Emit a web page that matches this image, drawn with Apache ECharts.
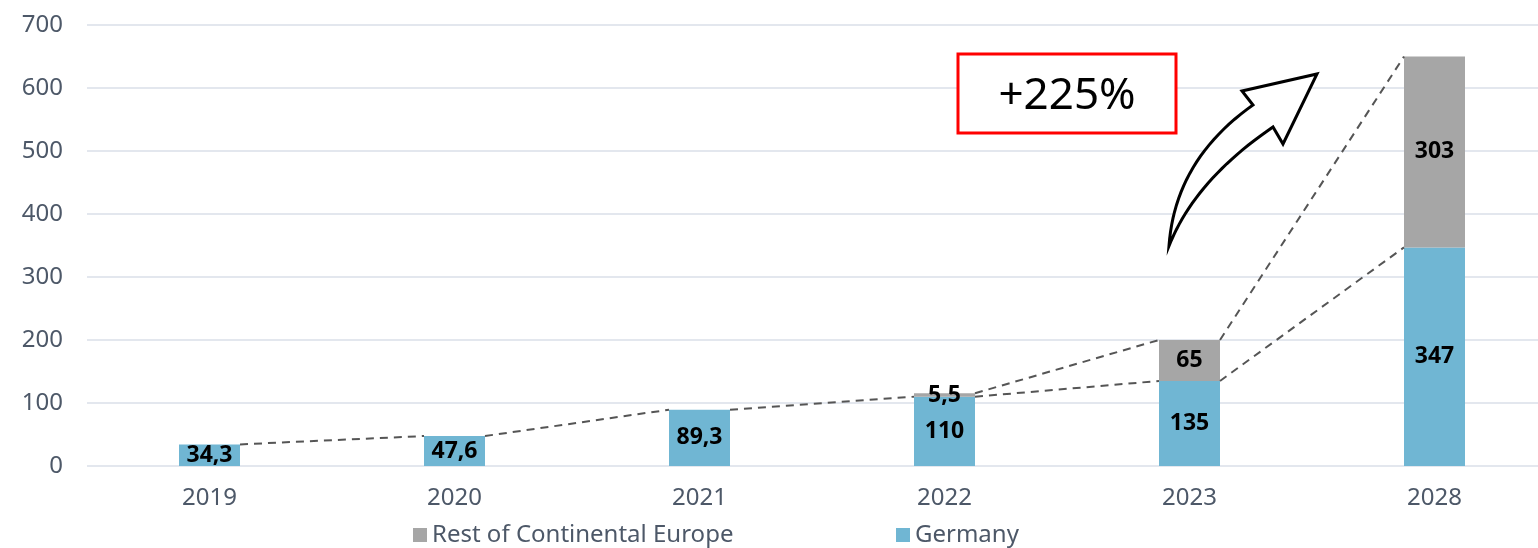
<!DOCTYPE html>
<html>
<head>
<meta charset="utf-8">
<script src="https://cdn.jsdelivr.net/npm/echarts@6/dist/echarts.min.js"></script>
<style>
  html, body { margin: 0; padding: 0; background: #fff; overflow: hidden; }
  #chart { width: 1557px; height: 548px; }
</style>
</head>
<body>
<div id="chart"></div>
<script>
  // data
  const years = ['2019', '2020', '2021', '2022', '2023', '2028']
  const germany = [34.3, 47.6, 89.3, 110, 135, 347]
  const restOfEurope = [null, null, null, 5.5, 65, 303]
  const yTicks = [0, 100, 200, 300, 400, 500, 600, 700]

  const blue = '#70b6d3'
  const grey = '#a6a6a6'
  const textColor = '#4d5868'
  const splitLineColor = '#e3e7ee'
  const barWidth = 61

  const totals = germany.map((g, i) => restOfEurope[i] == null ? null : g + restOfEurope[i])

  const fmt = p => (p.value == null ? '' : String(p.value).replace('.', ','))

  // dashed connector from right top corner of bar i to left top corner of bar i+1
  function connector(values) {
    return function (params, api) {
      const i = params.dataIndex
      if (i >= values.length - 1 || values[i] == null || values[i + 1] == null) return null
      const a = api.coord([i, values[i]])
      const b = api.coord([i + 1, values[i + 1]])
      return {
        type: 'line',
        shape: { x1: a[0] + barWidth / 2, y1: a[1], x2: b[0] - barWidth / 2, y2: b[1] },
        style: { stroke: '#555', lineWidth: 2, lineDash: [8, 6] }
      }
    }
  }

  // curved block arrow outline (decoration), quadratic edges sampled to points
  function quad(p0, c, p1, n) {
    const pts = []
    for (let k = 0; k <= n; k++) {
      const t = k / n
      pts.push([
        (1 - t) * (1 - t) * p0[0] + 2 * (1 - t) * t * c[0] + t * t * p1[0],
        (1 - t) * (1 - t) * p0[1] + 2 * (1 - t) * t * c[1] + t * t * p1[1]
      ])
    }
    return pts
  }
  const arrowPoints = [].concat(
    quad([1169, 246], [1175, 160], [1253, 105], 24),
    [[1242, 91], [1317, 74], [1283, 144]],
    quad([1273, 127], [1195, 180], [1169, 246], 24)
  )

  const chart = echarts.init(document.getElementById('chart'))
  chart.setOption({
    animation: false,
    textStyle: { fontFamily: 'Noto Sans' },
    // the plot area runs a little past the right edge of the picture
    grid: { left: 87, right: 0, top: 25, bottom: 82 },
    legend: [
      {
        data: ['Rest of Continental Europe'],
        left: 408, top: 518,
        icon: 'rect', itemWidth: 14, itemHeight: 14, itemGap: 6,
        textStyle: { color: textColor, fontSize: 24, fontFamily: 'Noto Sans' }
      },
      {
        data: ['Germany'],
        left: 891, top: 518,
        icon: 'rect', itemWidth: 14, itemHeight: 14, itemGap: 6,
        textStyle: { color: textColor, fontSize: 24, fontFamily: 'Noto Sans' }
      }
    ],
    xAxis: {
      type: 'category',
      data: years,
      axisLine: { show: false },
      axisTick: { show: false },
      axisLabel: { color: textColor, fontSize: 24, margin: 20 }
    },
    yAxis: {
      type: 'value',
      min: yTicks[0],
      max: yTicks[yTicks.length - 1],
      interval: 100,
      axisLine: { show: false },
      axisTick: { show: false },
      axisLabel: { color: textColor, fontSize: 24, margin: 24 },
      splitLine: { lineStyle: { color: splitLineColor, width: 2 } }
    },
    series: [
      {
        name: 'Germany',
        type: 'bar',
        stack: 'total',
        barWidth: barWidth,
        data: germany,
        itemStyle: { color: blue },
        label: { show: true, position: 'inside', color: '#000', fontSize: 23, fontWeight: 'bold', formatter: fmt }
      },
      {
        name: 'Rest of Continental Europe',
        type: 'bar',
        stack: 'total',
        barWidth: barWidth,
        data: restOfEurope,
        itemStyle: { color: grey },
        label: { show: true, position: 'inside', color: '#000', fontSize: 23, fontWeight: 'bold', formatter: fmt }
      },
      {
        type: 'custom',
        silent: true,
        z: 5,
        data: germany.map((v, i) => [i, v]),
        renderItem: connector(germany)
      },
      {
        type: 'custom',
        silent: true,
        z: 5,
        data: totals.map((v, i) => [i, v == null ? 0 : v]),
        renderItem: connector(totals)
      }
    ],
    graphic: [
      {
        type: 'rect',
        shape: { x: 958, y: 54, width: 218, height: 79 },
        style: { fill: '#fff', stroke: '#ff0000', lineWidth: 3 },
        z: 10
      },
      {
        type: 'text',
        x: 1067, y: 96,
        style: {
          text: '+225%', fill: '#000', fontSize: 44, fontFamily: 'Noto Sans',
          align: 'center', verticalAlign: 'middle'
        },
        z: 11
      },
      {
        type: 'polygon',
        shape: { points: arrowPoints },
        style: { fill: '#fff', stroke: '#000', lineWidth: 3, lineJoin: 'miter' },
        z: 10
      }
    ]
  })
</script>
</body>
</html>
